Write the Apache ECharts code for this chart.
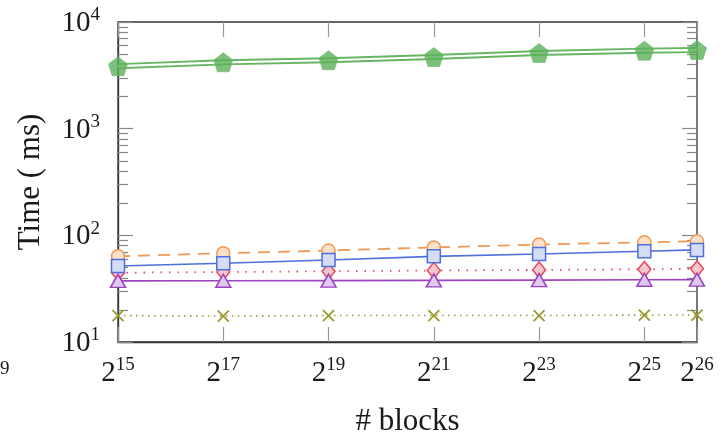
<!DOCTYPE html>
<html>
<head>
<meta charset="utf-8">
<script src="https://cdn.jsdelivr.net/npm/echarts@6/dist/echarts.min.js"></script>
<style>
  html, body { margin: 0; padding: 0; background: #fff; }
  #chart { width: 723px; height: 442px; }
</style>
</head>
<body>
<div id="chart"></div>
<script>
// x is log2(# blocks)
const exps = [15, 17, 19, 21, 23, 25, 26]
const xTicks = [15, 17, 19, 21, 23, 25, 26]
const yMajor = [10, 100, 1000, 10000]
const yMinor = [20, 30, 40, 50, 60, 70, 80, 90, 200, 300, 400, 500, 600, 700, 800, 900, 2000, 3000, 4000, 5000, 6000, 7000, 8000, 9000]

const greenData = [3850, 4190, 4380, 4700, 5120, 5390, 5460]
const orangeData = [63.5, 68, 72, 77, 82, 86, 88]
const blueData = [51.5, 54.7, 58.7, 63.5, 66.8, 71, 73]
const redData = [44.7, 45.3, 46.0, 46.8, 47.4, 48.0, 48.5]
const purpleData = [37.4, 37.5, 37.6, 37.8, 38.0, 38.3, 38.4]
const oliveData = [17.7, 17.5, 17.7, 17.7, 17.7, 17.9, 17.9]

const FONT = '"Liberation Serif", "DejaVu Serif", serif'
const pentagon = 'path://M0,-10 L9.51,-3.09 L5.88,8.09 L-5.88,8.09 L-9.51,-3.09 Z'
const cross = 'path://M0,0 L10,10 M10,0 L0,10'

const pts = ys => exps.map((x, i) => [x, ys[i]])

const supRich = {
  b: { fontFamily: FONT, fontSize: 29, lineHeight: 32, color: '#1a1a1a', verticalAlign: 'bottom' },
  s: { fontFamily: FONT, fontSize: 19, lineHeight: 17, color: '#1a1a1a', verticalAlign: 'top' }
}

const chart = echarts.init(document.getElementById('chart'))

const tickAxisY = (values, len, position) => ({
  type: 'log', logBase: 10, min: 10, max: 10000, position: position,
  axisLine: { show: false },
  axisLabel: { show: false },
  splitLine: { show: false },
  axisTick: { show: true, inside: true, length: len, customValues: values, lineStyle: { color: '#888', width: 1.2 } }
})

const option = {
  animation: false,
  grid: {
    left: 118, right: 26, top: 22, bottom: 97,
    show: true, borderColor: '#333', borderWidth: 1.3
  },
  xAxis: [
    {
      type: 'value', min: 15, max: 26,
      name: '# blocks', nameLocation: 'middle', nameGap: 64,
      nameTextStyle: { fontFamily: FONT, fontSize: 31, color: '#1a1a1a' },
      axisLine: { show: true, lineStyle: { color: '#333', width: 1.3 } },
      axisTick: { show: true, inside: true, length: 15, customValues: xTicks, lineStyle: { color: '#999', width: 1.2 } },
      axisLabel: {
        customValues: xTicks, margin: 14,
        formatter: v => '{b|2}{s|' + v + '}',
        rich: supRich
      },
      splitLine: { show: false }
    },
    {
      type: 'value', min: 15, max: 26, position: 'top',
      axisLine: { show: false },
      axisLabel: { show: false },
      splitLine: { show: false },
      axisTick: { show: true, inside: true, length: 15, customValues: xTicks, lineStyle: { color: '#999', width: 1.2 } }
    }
  ],
  yAxis: [
    {
      type: 'log', logBase: 10, min: 10, max: 10000,
      name: 'Time ( ms)', nameLocation: 'middle', nameGap: 72,
      nameTextStyle: { fontFamily: FONT, fontSize: 31, color: '#1a1a1a' },
      axisLine: { show: true, lineStyle: { color: '#333', width: 1.3 } },
      axisTick: { show: true, inside: true, length: 15, customValues: yMajor, lineStyle: { color: '#888', width: 1.2 } },
      axisLabel: {
        customValues: yMajor, margin: 18,
        formatter: v => '{b|10}{s|' + Math.round(Math.log10(v)) + '}',
        rich: supRich
      },
      splitLine: { show: false }
    },
    tickAxisY(yMinor, 10, 'left'),
    tickAxisY(yMajor, 15, 'right'),
    tickAxisY(yMinor, 10, 'right')
  ],
  series: [
    // double green line: wide green, thin white on top, then markers
    {
      type: 'line', data: pts(greenData), z: 2, showSymbol: false,
      lineStyle: { color: '#66b562', width: 6 }
    },
    {
      type: 'line', data: pts(greenData), z: 3, showSymbol: false,
      lineStyle: { color: '#ffffff', width: 2.2 }
    },
    {
      type: 'scatter', data: pts(greenData), z: 4,
      symbol: pentagon, symbolSize: 19,
      itemStyle: { color: '#5cb05a', borderColor: '#6cbc69', borderWidth: 0.8 }
    },
    {
      type: 'line', data: pts(orangeData), z: 5,
      symbol: 'circle', symbolSize: 13,
      lineStyle: { color: '#f09a58', width: 1.8, type: [12, 8] },
      itemStyle: { color: '#fbe0ca', borderColor: '#f09a58', borderWidth: 1.5 }
    },
    {
      type: 'line', data: pts(redData), z: 6,
      symbol: 'diamond', symbolSize: [13, 16],
      lineStyle: { color: '#e8485e', width: 1.8, type: [1.5, 7] },
      itemStyle: { color: '#f6c6ce', borderColor: '#e8485e', borderWidth: 1.5 }
    },
    {
      type: 'line', data: pts(blueData), z: 7,
      symbol: 'rect', symbolSize: 13,
      lineStyle: { color: '#4e6fdc', width: 1.6 },
      itemStyle: { color: '#d5dcf6', borderColor: '#4e6fdc', borderWidth: 1.5 }
    },
    {
      type: 'line', data: pts(purpleData), z: 8,
      symbol: 'triangle', symbolSize: [15, 13],
      lineStyle: { color: '#9a44c0', width: 1.6 },
      itemStyle: { color: '#e0c9ee', borderColor: '#9a44c0', borderWidth: 1.5 }
    },
    {
      type: 'line', data: pts(oliveData), z: 9,
      symbol: cross, symbolSize: 11, symbolKeepAspect: true,
      lineStyle: { color: '#9a9a32', width: 1.6, type: [1.5, 4.5] },
      itemStyle: { color: 'none', borderColor: '#9a9a32', borderWidth: 1.8 }
    }
  ],
  graphic: [
    {
      type: 'text', left: 0, top: 360,
      style: { text: '9', font: '19px ' + FONT, fill: '#1a1a1a' }
    }
  ]
}

chart.setOption(option)
</script>
</body>
</html>
